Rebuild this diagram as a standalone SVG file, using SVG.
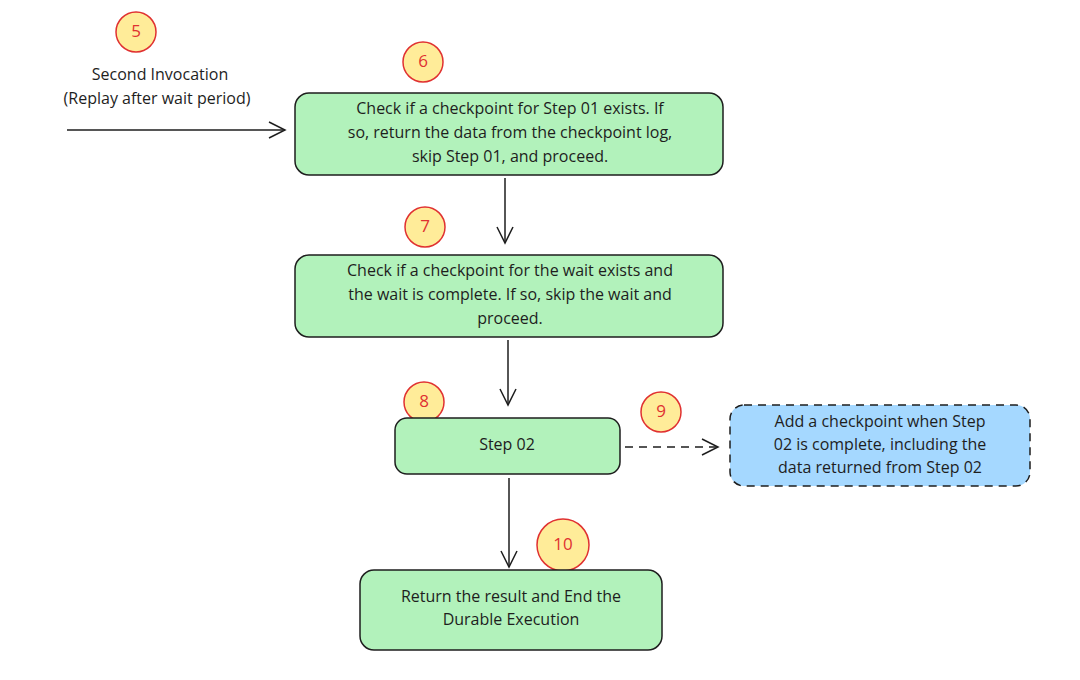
<svg xmlns="http://www.w3.org/2000/svg" width="1080" height="680" viewBox="0 0 1080 680">
<style>
.box{fill:#b2f2bb;stroke:#1e1e1e;stroke-width:1.5}
.blue{fill:#a5d8ff;stroke:#1e1e1e;stroke-width:1.5;stroke-dasharray:8 6}
.num{fill:#ffec99;stroke:#e03131;stroke-width:1.5}
.nt{font-family:"Open Sans",sans-serif;font-size:17px;fill:#e03131;text-anchor:middle;dominant-baseline:middle}
.t{font-family:"Open Sans",sans-serif;font-size:16px;fill:#1e1e1e;text-anchor:middle;dominant-baseline:middle}
.ln{stroke:#1e1e1e;stroke-width:1.5;fill:none}
</style>
<defs><marker id="a" viewBox="0 0 20 20" refX="18" refY="10" markerWidth="20" markerHeight="20" markerUnits="userSpaceOnUse" orient="auto"><path d="M2 2 L18 10 L2 18" fill="none" stroke="#1e1e1e" stroke-width="1.5"/></marker></defs>
<g id="connectors">
<line class="ln" x1="67" y1="130" x2="285" y2="130" marker-end="url(#a)"/>
<line class="ln" x1="505" y1="178" x2="505" y2="243" marker-end="url(#a)"/>
<line class="ln" x1="508" y1="340" x2="508" y2="405" marker-end="url(#a)"/>
<line class="ln" x1="625" y1="447" x2="718" y2="447" stroke-dasharray="8 6" marker-end="url(#a)"/>
<line class="ln" x1="509" y1="478" x2="509" y2="567" marker-end="url(#a)"/>
</g>
<g id="n5"><circle class="num" cx="136" cy="32" r="20"/><text class="nt" x="136" y="32">5</text>
<text class="t" x="160" y="76">Second Invocation</text><text class="t" x="157" y="100">(Replay after wait period)</text></g>
<g id="n6"><circle class="num" cx="423" cy="62" r="20"/><text class="nt" x="423" y="62">6</text></g>
<g id="b1"><rect class="box" x="295" y="93" width="428" height="82" rx="14"/>
<text class="t" x="510" y="110">Check if a checkpoint for Step 01 exists. If</text>
<text class="t" x="510" y="134">so, return the data from the checkpoint log,</text>
<text class="t" x="510" y="158">skip Step 01, and proceed.</text></g>
<g id="n7"><circle class="num" cx="425" cy="227" r="20"/><text class="nt" x="425" y="227">7</text></g>
<g id="b2"><rect class="box" x="295" y="255" width="428" height="82" rx="14"/>
<text class="t" x="510" y="272">Check if a checkpoint for the wait exists and</text>
<text class="t" x="510" y="296">the wait is complete. If so, skip the wait and</text>
<text class="t" x="510" y="320">proceed.</text></g>
<g id="n8"><circle class="num" cx="424" cy="402" r="20"/><text class="nt" x="424" y="402">8</text></g>
<g id="b3"><rect class="box" x="395" y="418" width="225" height="56" rx="12"/>
<text class="t" x="507" y="446">Step 02</text></g>
<g id="n9"><circle class="num" cx="661" cy="412" r="20"/><text class="nt" x="661" y="412">9</text></g>
<g id="b4"><rect class="blue" x="730" y="405" width="300" height="81" rx="14"/>
<text class="t" x="880" y="423">Add a checkpoint when Step</text>
<text class="t" x="880" y="446">02 is complete, including the</text>
<text class="t" x="880" y="469">data returned from Step 02</text></g>
<g id="n10"><circle class="num" cx="563" cy="545" r="26"/><text class="nt" x="563" y="545">10</text></g>
<g id="b5"><rect class="box" x="360" y="570" width="302" height="80" rx="14"/>
<text class="t" x="511" y="598">Return the result and End the</text>
<text class="t" x="511" y="621">Durable Execution</text></g>
</svg>
